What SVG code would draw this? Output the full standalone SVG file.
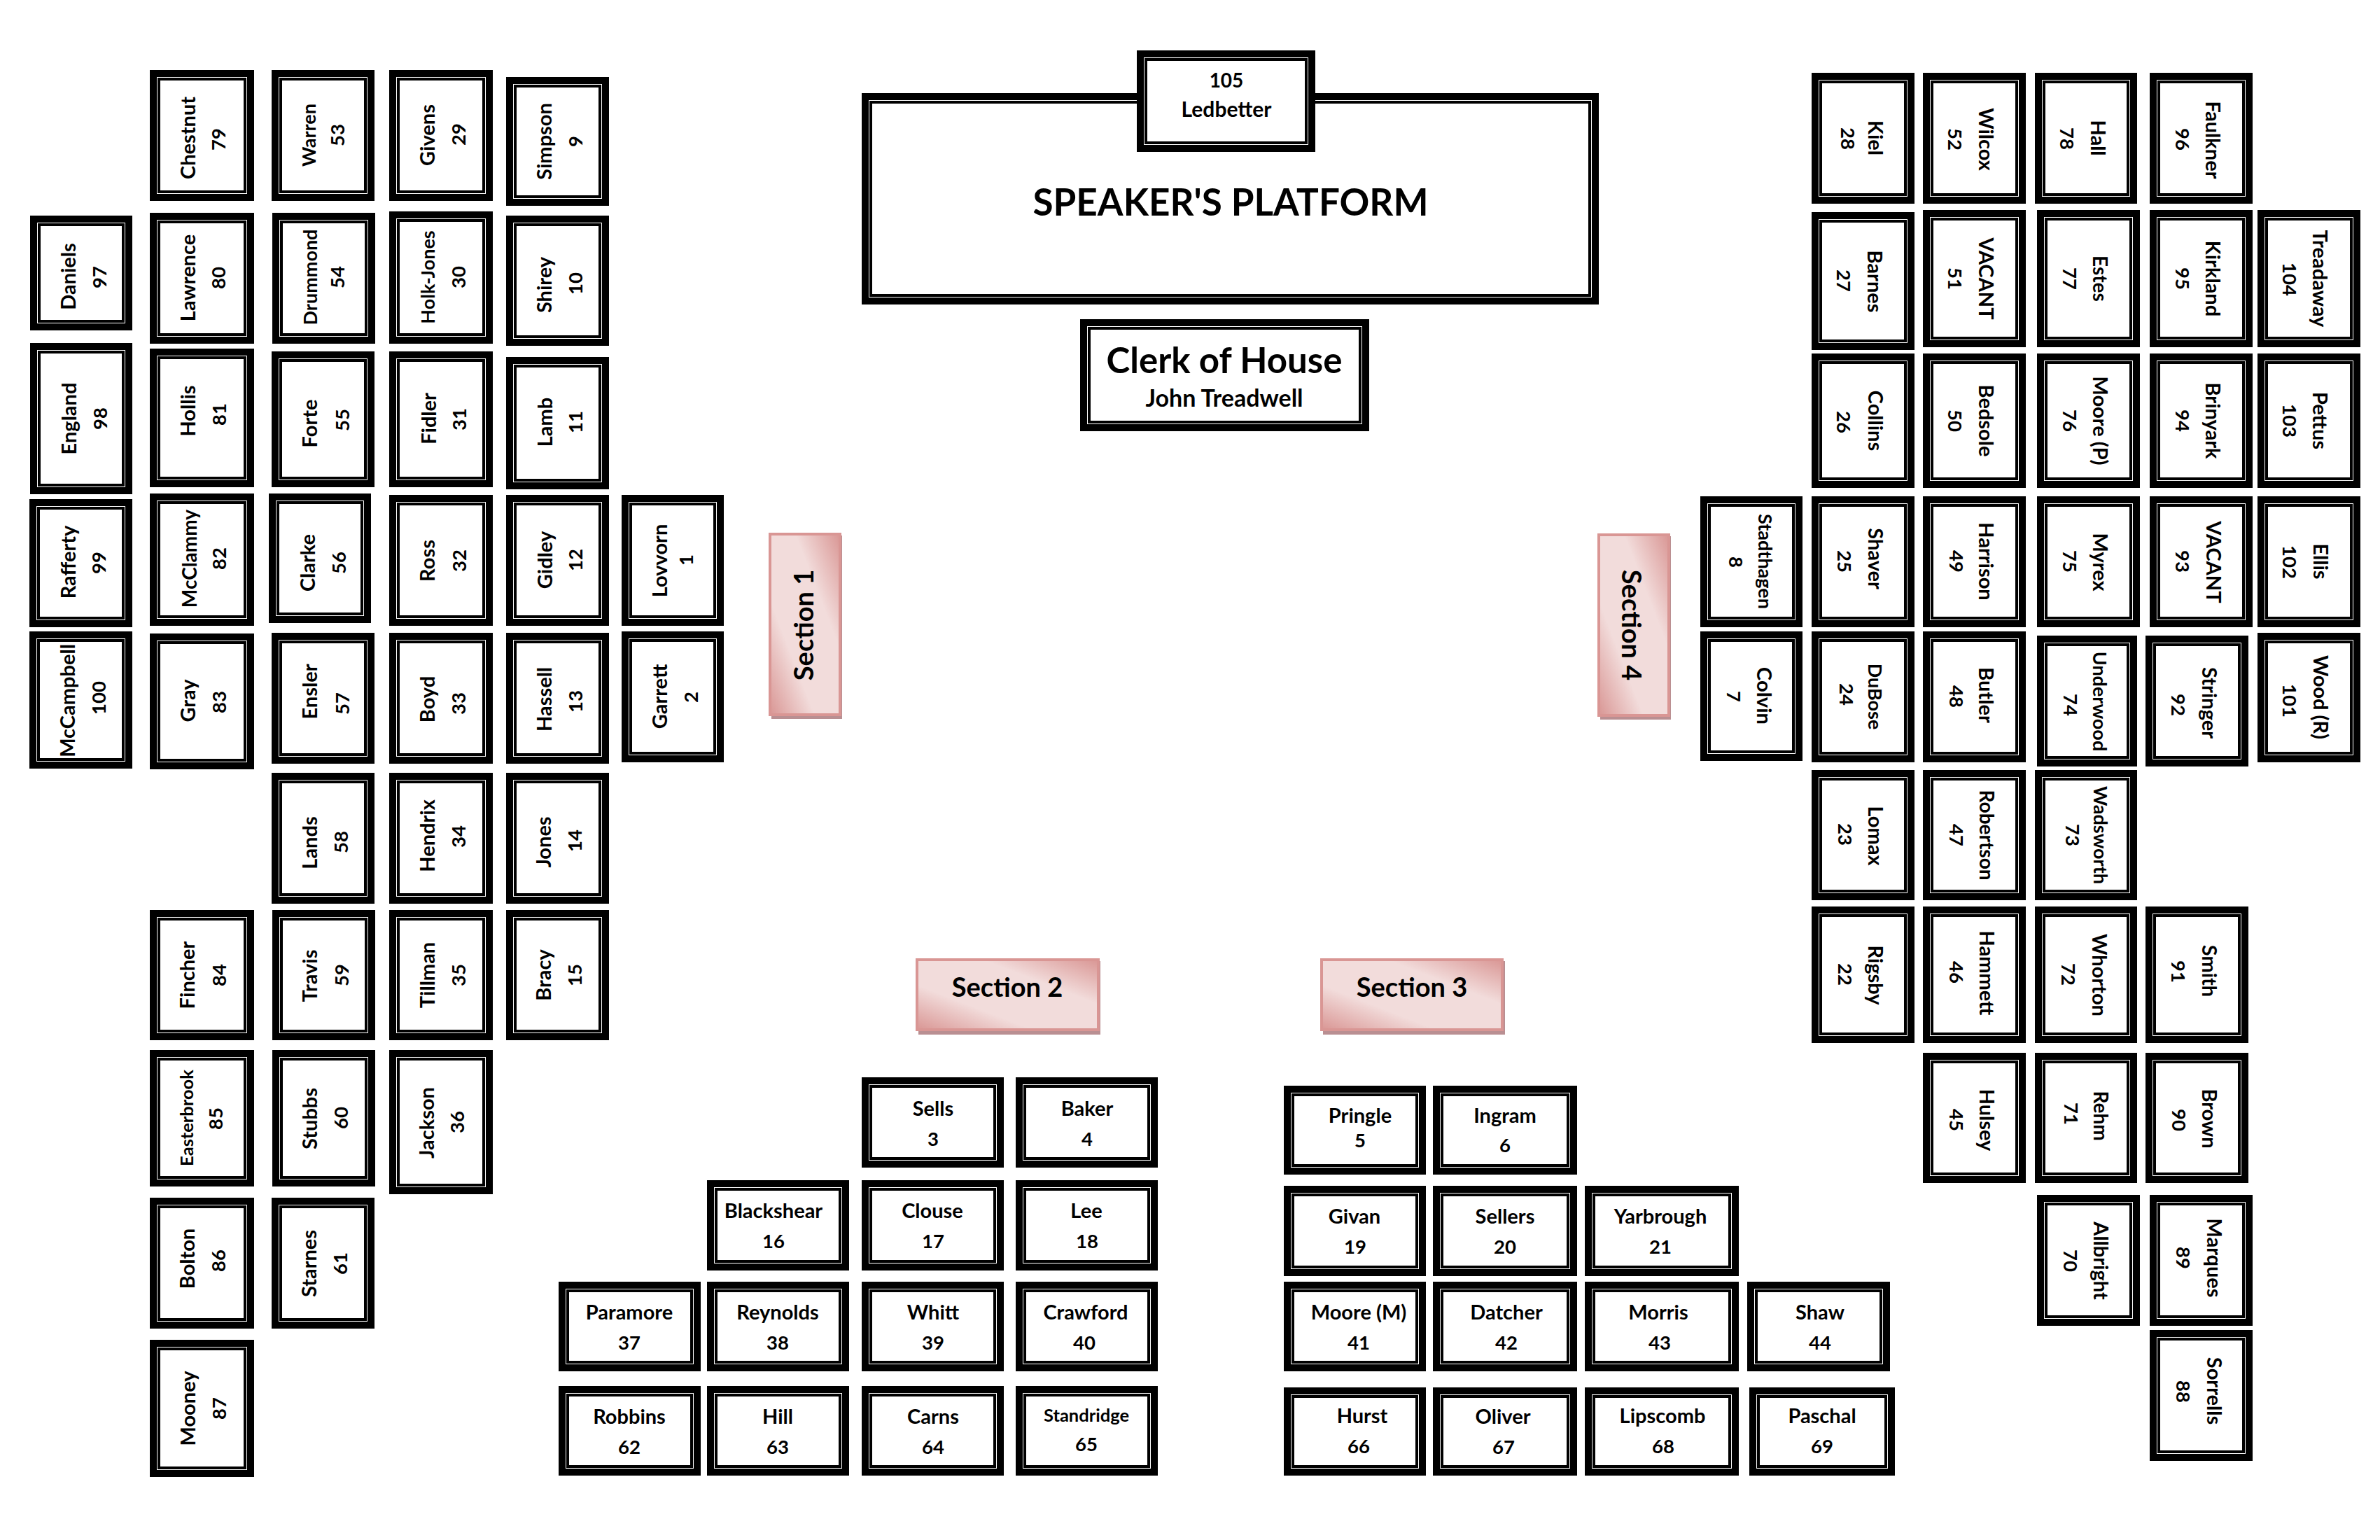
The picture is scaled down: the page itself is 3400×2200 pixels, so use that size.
<svg xmlns="http://www.w3.org/2000/svg" width="3400" height="2200" viewBox="0 0 3400 2200">
<style>
text{font-family:"Lato","Carlito","Liberation Sans",sans-serif;font-weight:700;font-size:29px;fill:#000;text-anchor:middle}
text:last-child{font-size:27.5px}
.a{fill:#fff;stroke:#000;stroke-width:10;shape-rendering:crispEdges}
.b{fill:none;stroke:#000;stroke-width:4;shape-rendering:crispEdges}
.sec{fill:url(#g);stroke:#D99694;stroke-width:4}
.sh{fill:#B98F92}
text.st:last-child{font-size:38px}
.sm{font-size:25.5px}
.md{font-size:27px}
.mh{font-size:28px}
</style>
<defs><linearGradient id="g" x1="1" y1="0" x2="0" y2="1"><stop offset="0" stop-color="#D99694"/><stop offset=".32" stop-color="#F2DCDB"/><stop offset=".68" stop-color="#F2DCDB"/><stop offset="1" stop-color="#D99694"/></linearGradient></defs>
<rect width="3400" height="2200" fill="#fff"/>

<g id="platform"><rect class="a" x="1236" y="138" width="1043" height="292"/><rect class="b" x="1244" y="146" width="1027" height="276"/><text x="1758" y="308" style="font-size:53px">SPEAKER'S PLATFORM</text></g>
<g id="seat105"><rect class="a" x="1629" y="77" width="245" height="135"/><rect class="b" x="1637" y="85" width="229" height="119"/><text x="1752" y="125" style="font-size:28px">105</text><text x="1752" y="167" style="font-size:30px">Ledbetter</text></g>
<g id="clerk"><rect class="a" x="1548" y="461" width="403" height="150"/><rect class="b" x="1556" y="469" width="387" height="134"/><text x="1749" y="533" style="font-size:51px">Clerk of House</text><text x="1749" y="581" style="font-size:34px">John Treadwell</text></g>

<g id="section1"><rect class="sh" x="1102" y="765" width="101" height="262"/><rect class="sec" x="1100" y="763" width="100" height="258"/><text class="st" transform="translate(1162,893) rotate(-90)">Section 1</text></g>
<g id="section4"><rect class="sh" x="2286" y="766" width="101" height="262"/><rect class="sec" x="2284" y="764" width="100" height="258"/><text class="st" transform="translate(2317,893) rotate(90)">Section 4</text></g>
<g id="section2"><rect class="sh" x="1312" y="1373" width="260" height="105"/><rect class="sec" x="1310" y="1371" width="259" height="100"/><text class="st" x="1439" y="1424">Section 2</text></g>
<g id="section3"><rect class="sh" x="1890" y="1373" width="260" height="105"/><rect class="sec" x="1888" y="1371" width="258" height="100"/><text class="st" x="2017" y="1424">Section 3</text></g>

<g id="seats-left">
<g id="s97"><rect class="a" x="48" y="313" width="136" height="154"/><rect class="b" x="56" y="321" width="120" height="138"/><text transform="translate(108,395) rotate(-90)">Daniels</text><text transform="translate(152,396) rotate(-90)">97</text></g>
<g id="s98"><rect class="a" x="48" y="495" width="136" height="206"/><rect class="b" x="56" y="503" width="120" height="190"/><text transform="translate(109,598) rotate(-90)">England</text><text transform="translate(153,598) rotate(-90)">98</text></g>
<g id="s99"><rect class="a" x="47" y="718" width="137" height="173"/><rect class="b" x="55" y="726" width="121" height="157"/><text transform="translate(108,803) rotate(-90)">Rafferty</text><text transform="translate(151,804) rotate(-90)">99</text></g>
<g id="s100"><rect class="a" x="47" y="907" width="137" height="186"/><rect class="b" x="55" y="915" width="121" height="170"/><text transform="translate(107,1001) rotate(-90)">McCampbell</text><text transform="translate(151,997) rotate(-90)">100</text></g>
<g id="s79"><rect class="a" x="219" y="105" width="139" height="177"/><rect class="b" x="227" y="113" width="123" height="161"/><text transform="translate(279,197) rotate(-90)">Chestnut</text><text transform="translate(322,199) rotate(-90)">79</text></g>
<g id="s80"><rect class="a" x="219" y="309" width="139" height="177"/><rect class="b" x="227" y="317" width="123" height="161"/><text transform="translate(279,397) rotate(-90)">Lawrence</text><text transform="translate(322,397) rotate(-90)">80</text></g>
<g id="s81"><rect class="a" x="219" y="503" width="139" height="188"/><rect class="b" x="227" y="511" width="123" height="172"/><text transform="translate(279,587) rotate(-90)">Hollis</text><text transform="translate(323,592) rotate(-90)">81</text></g>
<g id="s82"><rect class="a" x="219" y="710" width="139" height="179"/><rect class="b" x="227" y="718" width="123" height="163"/><text class="mh" transform="translate(281,798) rotate(-90)">McClammy</text><text transform="translate(323,798) rotate(-90)">82</text></g>
<g id="s83"><rect class="a" x="219" y="910" width="139" height="184"/><rect class="b" x="227" y="918" width="123" height="168"/><text transform="translate(279,1001) rotate(-90)">Gray</text><text transform="translate(323,1003) rotate(-90)">83</text></g>
<g id="s84"><rect class="a" x="219" y="1305" width="139" height="176"/><rect class="b" x="227" y="1313" width="123" height="160"/><text transform="translate(278,1393) rotate(-90)">Fincher</text><text transform="translate(323,1393) rotate(-90)">84</text></g>
<g id="s85"><rect class="a" x="219" y="1505" width="139" height="185"/><rect class="b" x="227" y="1513" width="123" height="169"/><text class="sm" transform="translate(276,1597) rotate(-90)">Easterbrook</text><text transform="translate(318,1598) rotate(-90)">85</text></g>
<g id="s86"><rect class="a" x="219" y="1716" width="139" height="177"/><rect class="b" x="227" y="1724" width="123" height="161"/><text transform="translate(278,1798) rotate(-90)">Bolton</text><text transform="translate(322,1801) rotate(-90)">86</text></g>
<g id="s87"><rect class="a" x="219" y="1919" width="139" height="186"/><rect class="b" x="227" y="1927" width="123" height="170"/><text transform="translate(279,2012) rotate(-90)">Mooney</text><text transform="translate(323,2012) rotate(-90)">87</text></g>
<g id="s53"><rect class="a" x="393" y="105" width="137" height="177"/><rect class="b" x="401" y="113" width="121" height="161"/><text class="md" transform="translate(451,193) rotate(-90)">Warren</text><text transform="translate(492,193) rotate(-90)">53</text></g>
<g id="s54"><rect class="a" x="394" y="309" width="137" height="177"/><rect class="b" x="402" y="317" width="121" height="161"/><text class="md" transform="translate(453,396) rotate(-90)">Drummond</text><text transform="translate(492,396) rotate(-90)">54</text></g>
<g id="s55"><rect class="a" x="393" y="507" width="137" height="184"/><rect class="b" x="401" y="515" width="121" height="168"/><text transform="translate(453,605) rotate(-90)">Forte</text><text transform="translate(499,600) rotate(-90)">55</text></g>
<g id="s56"><rect class="a" x="389" y="710" width="136" height="175"/><rect class="b" x="397" y="718" width="120" height="159"/><text transform="translate(450,804) rotate(-90)">Clarke</text><text transform="translate(494,804) rotate(-90)">56</text></g>
<g id="s57"><rect class="a" x="393" y="909" width="137" height="177"/><rect class="b" x="401" y="917" width="121" height="161"/><text transform="translate(453,988) rotate(-90)">Ensler</text><text transform="translate(499,1005) rotate(-90)">57</text></g>
<g id="s58"><rect class="a" x="393" y="1109" width="137" height="177"/><rect class="b" x="401" y="1117" width="121" height="161"/><text transform="translate(453,1204) rotate(-90)">Lands</text><text transform="translate(497,1203) rotate(-90)">58</text></g>
<g id="s59"><rect class="a" x="394" y="1305" width="137" height="176"/><rect class="b" x="402" y="1313" width="121" height="160"/><text transform="translate(453,1394) rotate(-90)">Travis</text><text transform="translate(498,1393) rotate(-90)">59</text></g>
<g id="s60"><rect class="a" x="394" y="1505" width="137" height="185"/><rect class="b" x="402" y="1513" width="121" height="169"/><text transform="translate(453,1598) rotate(-90)">Stubbs</text><text transform="translate(497,1597) rotate(-90)">60</text></g>
<g id="s61"><rect class="a" x="393" y="1716" width="137" height="177"/><rect class="b" x="401" y="1724" width="121" height="161"/><text transform="translate(452,1805) rotate(-90)">Starnes</text><text transform="translate(496,1805) rotate(-90)">61</text></g>
<g id="s29"><rect class="a" x="561" y="105" width="138" height="177"/><rect class="b" x="569" y="113" width="122" height="161"/><text transform="translate(621,193) rotate(-90)">Givens</text><text transform="translate(665,192) rotate(-90)">29</text></g>
<g id="s30"><rect class="a" x="561" y="307" width="138" height="179"/><rect class="b" x="569" y="315" width="122" height="163"/><text class="md" transform="translate(621,396) rotate(-90)">Holk-Jones</text><text transform="translate(665,396) rotate(-90)">30</text></g>
<g id="s31"><rect class="a" x="561" y="507" width="138" height="184"/><rect class="b" x="569" y="515" width="122" height="168"/><text transform="translate(623,598) rotate(-90)">Fidler</text><text transform="translate(666,599) rotate(-90)">31</text></g>
<g id="s32"><rect class="a" x="561" y="712" width="138" height="177"/><rect class="b" x="569" y="720" width="122" height="161"/><text transform="translate(621,801) rotate(-90)">Ross</text><text transform="translate(666,801) rotate(-90)">32</text></g>
<g id="s33"><rect class="a" x="561" y="909" width="138" height="177"/><rect class="b" x="569" y="917" width="122" height="161"/><text transform="translate(621,999) rotate(-90)">Boyd</text><text transform="translate(665,1005) rotate(-90)">33</text></g>
<g id="s34"><rect class="a" x="561" y="1109" width="138" height="177"/><rect class="b" x="569" y="1117" width="122" height="161"/><text transform="translate(621,1194) rotate(-90)">Hendrix</text><text transform="translate(665,1195) rotate(-90)">34</text></g>
<g id="s35"><rect class="a" x="561" y="1305" width="138" height="176"/><rect class="b" x="569" y="1313" width="122" height="160"/><text transform="translate(621,1393) rotate(-90)">Tillman</text><text transform="translate(665,1393) rotate(-90)">35</text></g>
<g id="s36"><rect class="a" x="561" y="1505" width="138" height="196"/><rect class="b" x="569" y="1513" width="122" height="180"/><text transform="translate(620,1604) rotate(-90)">Jackson</text><text transform="translate(663,1603) rotate(-90)">36</text></g>
<g id="s9"><rect class="a" x="728" y="115" width="137" height="174"/><rect class="b" x="736" y="123" width="121" height="158"/><text transform="translate(788,202) rotate(-90)">Simpson</text><text transform="translate(832,202) rotate(-90)">9</text></g>
<g id="s10"><rect class="a" x="728" y="313" width="137" height="176"/><rect class="b" x="736" y="321" width="121" height="160"/><text transform="translate(788,407) rotate(-90)">Shirey</text><text transform="translate(832,405) rotate(-90)">10</text></g>
<g id="s11"><rect class="a" x="728" y="515" width="137" height="179"/><rect class="b" x="736" y="523" width="121" height="163"/><text transform="translate(789,603) rotate(-90)">Lamb</text><text transform="translate(832,603) rotate(-90)">11</text></g>
<g id="s12"><rect class="a" x="728" y="712" width="137" height="177"/><rect class="b" x="736" y="720" width="121" height="161"/><text transform="translate(789,800) rotate(-90)">Gidley</text><text transform="translate(832,800) rotate(-90)">12</text></g>
<g id="s13"><rect class="a" x="728" y="909" width="137" height="177"/><rect class="b" x="736" y="917" width="121" height="161"/><text transform="translate(788,999) rotate(-90)">Hassell</text><text transform="translate(832,1002) rotate(-90)">13</text></g>
<g id="s14"><rect class="a" x="728" y="1109" width="137" height="177"/><rect class="b" x="736" y="1117" width="121" height="161"/><text transform="translate(787,1203) rotate(-90)">Jones</text><text transform="translate(831,1201) rotate(-90)">14</text></g>
<g id="s15"><rect class="a" x="728" y="1305" width="137" height="176"/><rect class="b" x="736" y="1313" width="121" height="160"/><text transform="translate(787,1393) rotate(-90)">Bracy</text><text transform="translate(831,1393) rotate(-90)">15</text></g>
<g id="s1"><rect class="a" x="893" y="712" width="136" height="177"/><rect class="b" x="901" y="720" width="120" height="161"/><text transform="translate(953,801) rotate(-90)">Lovvorn</text><text transform="translate(990,800) rotate(-90)">1</text></g>
<g id="s2"><rect class="a" x="893" y="907" width="136" height="177"/><rect class="b" x="901" y="915" width="120" height="161"/><text transform="translate(953,995) rotate(-90)">Garrett</text><text transform="translate(997,996) rotate(-90)">2</text></g>
</g>

<g id="seats-right">
<g id="s8"><rect class="a" x="2434" y="714" width="136" height="177"/><rect class="b" x="2442" y="722" width="120" height="161"/><text class="md" transform="translate(2512,802) rotate(90)">Stadthagen</text><text transform="translate(2470,803) rotate(90)">8</text></g>
<g id="s7"><rect class="a" x="2434" y="907" width="136" height="175"/><rect class="b" x="2442" y="915" width="120" height="159"/><text transform="translate(2510,994) rotate(90)">Colvin</text><text transform="translate(2467,995) rotate(90)">7</text></g>
<g id="s28"><rect class="a" x="2593" y="109" width="137" height="177"/><rect class="b" x="2601" y="117" width="121" height="161"/><text transform="translate(2669,197) rotate(90)">Kiel</text><text transform="translate(2630,198) rotate(90)">28</text></g>
<g id="s27"><rect class="a" x="2593" y="308" width="137" height="187"/><rect class="b" x="2601" y="316" width="121" height="171"/><text transform="translate(2668,402) rotate(90)">Barnes</text><text transform="translate(2624,401) rotate(90)">27</text></g>
<g id="s26"><rect class="a" x="2593" y="510" width="137" height="182"/><rect class="b" x="2601" y="518" width="121" height="166"/><text transform="translate(2669,601) rotate(90)">Collins</text><text transform="translate(2624,603) rotate(90)">26</text></g>
<g id="s25"><rect class="a" x="2593" y="714" width="137" height="177"/><rect class="b" x="2601" y="722" width="121" height="161"/><text transform="translate(2669,798) rotate(90)">Shaver</text><text transform="translate(2625,802) rotate(90)">25</text></g>
<g id="s24"><rect class="a" x="2593" y="907" width="137" height="177"/><rect class="b" x="2601" y="915" width="121" height="161"/><text class="md" transform="translate(2669,995) rotate(90)">DuBose</text><text transform="translate(2628,992) rotate(90)">24</text></g>
<g id="s23"><rect class="a" x="2593" y="1105" width="137" height="176"/><rect class="b" x="2601" y="1113" width="121" height="160"/><text transform="translate(2669,1194) rotate(90)">Lomax</text><text transform="translate(2626,1192) rotate(90)">23</text></g>
<g id="s22"><rect class="a" x="2593" y="1300" width="137" height="185"/><rect class="b" x="2601" y="1308" width="121" height="169"/><text transform="translate(2669,1393) rotate(90)">Rigsby</text><text transform="translate(2626,1392) rotate(90)">22</text></g>
<g id="s52"><rect class="a" x="2752" y="109" width="137" height="177"/><rect class="b" x="2760" y="117" width="121" height="161"/><text transform="translate(2827,199) rotate(90)">Wilcox</text><text transform="translate(2783,199) rotate(90)">52</text></g>
<g id="s51"><rect class="a" x="2752" y="305" width="137" height="186"/><rect class="b" x="2760" y="313" width="121" height="170"/><text transform="translate(2827,398) rotate(90)">VACANT</text><text transform="translate(2783,398) rotate(90)">51</text></g>
<g id="s50"><rect class="a" x="2752" y="510" width="137" height="182"/><rect class="b" x="2760" y="518" width="121" height="166"/><text transform="translate(2827,601) rotate(90)">Bedsole</text><text transform="translate(2783,601) rotate(90)">50</text></g>
<g id="s49"><rect class="a" x="2752" y="714" width="137" height="177"/><rect class="b" x="2760" y="722" width="121" height="161"/><text transform="translate(2827,802) rotate(90)">Harrison</text><text transform="translate(2785,802) rotate(90)">49</text></g>
<g id="s48"><rect class="a" x="2752" y="907" width="137" height="177"/><rect class="b" x="2760" y="915" width="121" height="161"/><text transform="translate(2827,993) rotate(90)">Butler</text><text transform="translate(2785,995) rotate(90)">48</text></g>
<g id="s47"><rect class="a" x="2752" y="1105" width="137" height="176"/><rect class="b" x="2760" y="1113" width="121" height="160"/><text class="mh" transform="translate(2828,1193) rotate(90)">Robertson</text><text transform="translate(2785,1193) rotate(90)">47</text></g>
<g id="s46"><rect class="a" x="2752" y="1300" width="137" height="185"/><rect class="b" x="2760" y="1308" width="121" height="169"/><text transform="translate(2828,1390) rotate(90)">Hammett</text><text transform="translate(2785,1389) rotate(90)">46</text></g>
<g id="s45"><rect class="a" x="2752" y="1509" width="137" height="176"/><rect class="b" x="2760" y="1517" width="121" height="160"/><text transform="translate(2828,1600) rotate(90)">Hulsey</text><text transform="translate(2785,1600) rotate(90)">45</text></g>
<g id="s78"><rect class="a" x="2912" y="109" width="136" height="177"/><rect class="b" x="2920" y="117" width="120" height="161"/><text transform="translate(2987,197) rotate(90)">Hall</text><text transform="translate(2943,198) rotate(90)">78</text></g>
<g id="s77"><rect class="a" x="2915" y="305" width="137" height="186"/><rect class="b" x="2923" y="313" width="121" height="170"/><text class="mh" transform="translate(2990,398) rotate(90)">Estes</text><text transform="translate(2947,398) rotate(90)">77</text></g>
<g id="s76"><rect class="a" x="2915" y="510" width="137" height="182"/><rect class="b" x="2923" y="518" width="121" height="166"/><text transform="translate(2990,601) rotate(90)">Moore (P)</text><text transform="translate(2947,601) rotate(90)">76</text></g>
<g id="s75"><rect class="a" x="2915" y="714" width="137" height="177"/><rect class="b" x="2923" y="722" width="121" height="161"/><text transform="translate(2990,803) rotate(90)">Myrex</text><text transform="translate(2947,802) rotate(90)">75</text></g>
<g id="s74"><rect class="a" x="2915" y="913" width="133" height="177"/><rect class="b" x="2923" y="921" width="117" height="161"/><text class="md" transform="translate(2990,1002) rotate(90)">Underwood</text><text transform="translate(2948,1007) rotate(90)">74</text></g>
<g id="s73"><rect class="a" x="2912" y="1105" width="136" height="176"/><rect class="b" x="2920" y="1113" width="120" height="160"/><text class="md" transform="translate(2991,1193) rotate(90)">Wadsworth</text><text transform="translate(2951,1193) rotate(90)">73</text></g>
<g id="s72"><rect class="a" x="2912" y="1300" width="136" height="185"/><rect class="b" x="2920" y="1308" width="120" height="169"/><text transform="translate(2989,1393) rotate(90)">Whorton</text><text transform="translate(2945,1392) rotate(90)">72</text></g>
<g id="s71"><rect class="a" x="2912" y="1509" width="136" height="176"/><rect class="b" x="2920" y="1517" width="120" height="160"/><text class="mh" transform="translate(2991,1594) rotate(90)">Rehm</text><text transform="translate(2949,1591) rotate(90)">71</text></g>
<g id="s70"><rect class="a" x="2915" y="1712" width="137" height="177"/><rect class="b" x="2923" y="1720" width="121" height="161"/><text transform="translate(2991,1801) rotate(90)">Allbright</text><text transform="translate(2948,1801) rotate(90)">70</text></g>
<g id="s96"><rect class="a" x="3076" y="109" width="137" height="177"/><rect class="b" x="3084" y="117" width="121" height="161"/><text transform="translate(3151,200) rotate(90)">Faulkner</text><text transform="translate(3108,199) rotate(90)">96</text></g>
<g id="s95"><rect class="a" x="3076" y="305" width="137" height="186"/><rect class="b" x="3084" y="313" width="121" height="170"/><text transform="translate(3151,398) rotate(90)">Kirkland</text><text transform="translate(3108,398) rotate(90)">95</text></g>
<g id="s94"><rect class="a" x="3076" y="510" width="137" height="182"/><rect class="b" x="3084" y="518" width="121" height="166"/><text transform="translate(3151,601) rotate(90)">Brinyark</text><text transform="translate(3108,601) rotate(90)">94</text></g>
<g id="s93"><rect class="a" x="3076" y="714" width="137" height="177"/><rect class="b" x="3084" y="722" width="121" height="161"/><text transform="translate(3152,803) rotate(90)">VACANT</text><text transform="translate(3108,802) rotate(90)">93</text></g>
<g id="s92"><rect class="a" x="3070" y="913" width="137" height="177"/><rect class="b" x="3078" y="921" width="121" height="161"/><text transform="translate(3146,1004) rotate(90)">Stringer</text><text transform="translate(3102,1007) rotate(90)">92</text></g>
<g id="s91"><rect class="a" x="3070" y="1300" width="137" height="185"/><rect class="b" x="3078" y="1308" width="121" height="169"/><text transform="translate(3146,1387) rotate(90)">Smith</text><text transform="translate(3102,1388) rotate(90)">91</text></g>
<g id="s90"><rect class="a" x="3070" y="1509" width="137" height="176"/><rect class="b" x="3078" y="1517" width="121" height="160"/><text transform="translate(3146,1598) rotate(90)">Brown</text><text transform="translate(3103,1600) rotate(90)">90</text></g>
<g id="s89"><rect class="a" x="3076" y="1712" width="137" height="177"/><rect class="b" x="3084" y="1720" width="121" height="161"/><text transform="translate(3153,1797) rotate(90)">Marques</text><text transform="translate(3109,1797) rotate(90)">89</text></g>
<g id="s88"><rect class="a" x="3076" y="1905" width="137" height="177"/><rect class="b" x="3084" y="1913" width="121" height="161"/><text transform="translate(3153,1987) rotate(90)">Sorrells</text><text transform="translate(3109,1988) rotate(90)">88</text></g>
<g id="s104"><rect class="a" x="3230" y="305" width="137" height="186"/><rect class="b" x="3238" y="313" width="121" height="170"/><text transform="translate(3304,398) rotate(90)">Treadaway</text><text transform="translate(3261,399) rotate(90)">104</text></g>
<g id="s103"><rect class="a" x="3230" y="510" width="137" height="182"/><rect class="b" x="3238" y="518" width="121" height="166"/><text transform="translate(3304,601) rotate(90)">Pettus</text><text transform="translate(3261,601) rotate(90)">103</text></g>
<g id="s102"><rect class="a" x="3230" y="714" width="137" height="177"/><rect class="b" x="3238" y="722" width="121" height="161"/><text transform="translate(3305,802) rotate(90)">Ellis</text><text transform="translate(3261,803) rotate(90)">102</text></g>
<g id="s101"><rect class="a" x="3230" y="909" width="137" height="175"/><rect class="b" x="3238" y="917" width="121" height="159"/><text transform="translate(3305,996) rotate(90)">Wood (R)</text><text transform="translate(3261,1001) rotate(90)">101</text></g>
</g>

<g id="seats-section2">
<g id="s3"><rect class="a" x="1236" y="1544" width="193" height="119"/><rect class="b" x="1244" y="1552" width="177" height="103"/><text x="1333" y="1594">Sells</text><text x="1333" y="1637">3</text></g>
<g id="s4"><rect class="a" x="1456" y="1544" width="193" height="119"/><rect class="b" x="1464" y="1552" width="177" height="103"/><text x="1553" y="1594">Baker</text><text x="1553" y="1637">4</text></g>
<g id="s16"><rect class="a" x="1015" y="1691" width="193" height="119"/><rect class="b" x="1023" y="1699" width="177" height="103"/><text x="1105" y="1740">Blackshear</text><text x="1105" y="1783">16</text></g>
<g id="s17"><rect class="a" x="1236" y="1691" width="193" height="119"/><rect class="b" x="1244" y="1699" width="177" height="103"/><text x="1332" y="1740">Clouse</text><text x="1333" y="1783">17</text></g>
<g id="s18"><rect class="a" x="1456" y="1691" width="193" height="119"/><rect class="b" x="1464" y="1699" width="177" height="103"/><text x="1552" y="1740">Lee</text><text x="1553" y="1783">18</text></g>
<g id="s37"><rect class="a" x="803" y="1836" width="193" height="118"/><rect class="b" x="811" y="1844" width="177" height="102"/><text x="899" y="1885">Paramore</text><text x="899" y="1928">37</text></g>
<g id="s38"><rect class="a" x="1015" y="1836" width="193" height="118"/><rect class="b" x="1023" y="1844" width="177" height="102"/><text x="1111" y="1885">Reynolds</text><text x="1111" y="1928">38</text></g>
<g id="s39"><rect class="a" x="1236" y="1836" width="193" height="118"/><rect class="b" x="1244" y="1844" width="177" height="102"/><text x="1333" y="1885">Whitt</text><text x="1333" y="1928">39</text></g>
<g id="s40"><rect class="a" x="1456" y="1836" width="193" height="118"/><rect class="b" x="1464" y="1844" width="177" height="102"/><text x="1551" y="1885">Crawford</text><text x="1549" y="1928">40</text></g>
<g id="s62"><rect class="a" x="803" y="1985" width="193" height="118"/><rect class="b" x="811" y="1993" width="177" height="102"/><text x="899" y="2034">Robbins</text><text x="899" y="2077">62</text></g>
<g id="s63"><rect class="a" x="1015" y="1985" width="193" height="118"/><rect class="b" x="1023" y="1993" width="177" height="102"/><text x="1111" y="2034">Hill</text><text x="1111" y="2077">63</text></g>
<g id="s64"><rect class="a" x="1236" y="1985" width="193" height="118"/><rect class="b" x="1244" y="1993" width="177" height="102"/><text x="1333" y="2034">Carns</text><text x="1333" y="2077">64</text></g>
<g id="s65"><rect class="a" x="1456" y="1985" width="193" height="118"/><rect class="b" x="1464" y="1993" width="177" height="102"/><text class="sm" x="1552" y="2031">Standridge</text><text x="1552" y="2073">65</text></g>
</g>

<g id="seats-section3">
<g id="s5"><rect class="a" x="1839" y="1556" width="193" height="117"/><rect class="b" x="1847" y="1564" width="177" height="101"/><text x="1943" y="1604">Pringle</text><text x="1943" y="1639">5</text></g>
<g id="s6"><rect class="a" x="2052" y="1556" width="196" height="117"/><rect class="b" x="2060" y="1564" width="180" height="101"/><text x="2150" y="1604">Ingram</text><text x="2150" y="1646">6</text></g>
<g id="s19"><rect class="a" x="1839" y="1699" width="193" height="119"/><rect class="b" x="1847" y="1707" width="177" height="103"/><text x="1935" y="1748">Givan</text><text x="1936" y="1791">19</text></g>
<g id="s20"><rect class="a" x="2052" y="1699" width="196" height="119"/><rect class="b" x="2060" y="1707" width="180" height="103"/><text x="2150" y="1748">Sellers</text><text x="2150" y="1791">20</text></g>
<g id="s21"><rect class="a" x="2269" y="1699" width="210" height="119"/><rect class="b" x="2277" y="1707" width="194" height="103"/><text x="2372" y="1748">Yarbrough</text><text x="2372" y="1791">21</text></g>
<g id="s41"><rect class="a" x="1839" y="1836" width="193" height="118"/><rect class="b" x="1847" y="1844" width="177" height="102"/><text x="1941" y="1885">Moore (M)</text><text x="1941" y="1928">41</text></g>
<g id="s42"><rect class="a" x="2052" y="1836" width="196" height="118"/><rect class="b" x="2060" y="1844" width="180" height="102"/><text x="2152" y="1885">Datcher</text><text x="2152" y="1928">42</text></g>
<g id="s43"><rect class="a" x="2269" y="1836" width="210" height="118"/><rect class="b" x="2277" y="1844" width="194" height="102"/><text x="2369" y="1885">Morris</text><text x="2371" y="1928">43</text></g>
<g id="s44"><rect class="a" x="2501" y="1836" width="194" height="118"/><rect class="b" x="2509" y="1844" width="178" height="102"/><text x="2600" y="1885">Shaw</text><text x="2600" y="1928">44</text></g>
<g id="s66"><rect class="a" x="1839" y="1987" width="193" height="116"/><rect class="b" x="1847" y="1995" width="177" height="100"/><text x="1946" y="2033">Hurst</text><text x="1941" y="2076">66</text></g>
<g id="s67"><rect class="a" x="2052" y="1987" width="196" height="116"/><rect class="b" x="2060" y="1995" width="180" height="100"/><text x="2147" y="2034">Oliver</text><text x="2148" y="2077">67</text></g>
<g id="s68"><rect class="a" x="2269" y="1987" width="210" height="116"/><rect class="b" x="2277" y="1995" width="194" height="100"/><text x="2375" y="2033">Lipscomb</text><text x="2376" y="2076">68</text></g>
<g id="s69"><rect class="a" x="2504" y="1987" width="198" height="116"/><rect class="b" x="2512" y="1995" width="182" height="100"/><text x="2603" y="2033">Paschal</text><text x="2603" y="2076">69</text></g>
</g>
</svg>
